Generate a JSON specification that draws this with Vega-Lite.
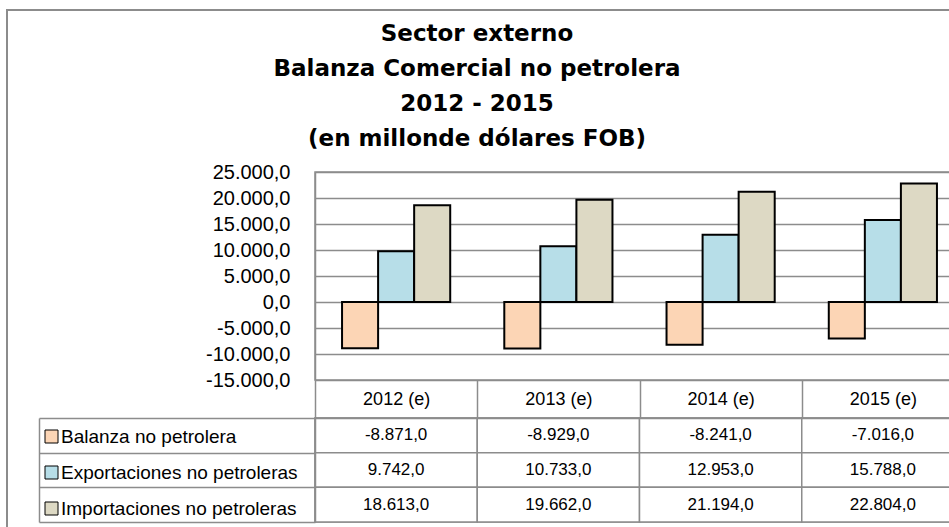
{
  "$schema": "https://vega.github.io/schema/vega-lite/v6.json",
  "padding": {"left": 6, "top": 9, "right": 0, "bottom": 0},
  "background": "white",
  "title": {
    "text": ["Sector externo", "Balanza Comercial no petrolera", "2012 - 2015", "(en millonde dólares FOB)"],
    "anchor": "middle",
    "frame": "bounds",
    "font": "DejaVu Sans",
    "fontSize": 23,
    "fontWeight": "bold",
    "lineHeight": 35,
    "color": "black",
    "offset": 11,
    "dx": -26,
    "dy": 153
  },
  "datasets": {
    "trade": [
      {"year": "2012 (e)", "series": "Balanza no petrolera", "value": -8871},
      {"year": "2013 (e)", "series": "Balanza no petrolera", "value": -8929},
      {"year": "2014 (e)", "series": "Balanza no petrolera", "value": -8241},
      {"year": "2015 (e)", "series": "Balanza no petrolera", "value": -7016},
      {"year": "2012 (e)", "series": "Exportaciones no petroleras", "value": 9742},
      {"year": "2013 (e)", "series": "Exportaciones no petroleras", "value": 10733},
      {"year": "2014 (e)", "series": "Exportaciones no petroleras", "value": 12953},
      {"year": "2015 (e)", "series": "Exportaciones no petroleras", "value": 15788},
      {"year": "2012 (e)", "series": "Importaciones no petroleras", "value": 18613},
      {"year": "2013 (e)", "series": "Importaciones no petroleras", "value": 19662},
      {"year": "2014 (e)", "series": "Importaciones no petroleras", "value": 21194},
      {"year": "2015 (e)", "series": "Importaciones no petroleras", "value": 22804}
    ]
  },
  "data": {"name": "trade"},
  "bounds": "flush",
  "spacing": 38,
  "resolve": {"scale": {"color": "independent"}, "legend": {"color": "independent"}},
  "vconcat": [
    {
      "width": 649,
      "height": 208,
      "mark": {"type": "bar", "stroke": "black", "strokeWidth": 2},
      "encoding": {
        "x": {
          "field": "year", "type": "nominal",
          "scale": {"paddingInner": 0.3333, "paddingOuter": 0.1667},
          "axis": null
        },
        "xOffset": {
          "field": "series", "type": "nominal",
          "sort": ["Balanza no petrolera", "Exportaciones no petroleras", "Importaciones no petroleras"],
          "scale": {"paddingInner": 0, "paddingOuter": 0}
        },
        "y": {
          "field": "value", "type": "quantitative",
          "scale": {"domain": [-15000, 25000], "nice": false, "zero": false},
          "axis": {
            "values": [-15000, -10000, -5000, 0, 5000, 10000, 15000, 20000, 25000],
            "format": ",.1f",
            "title": null,
            "grid": true,
            "gridColor": "#8c8c8c",
            "gridWidth": 1.5,
            "domainColor": "#8c8c8c",
            "domainWidth": 1.5,
            "ticks": false,
            "labelPadding": 25,
            "labelFont": "Liberation Sans",
            "labelFontSize": 20,
            "labelColor": "black"
          }
        },
        "color": {
          "field": "series", "type": "nominal",
          "scale": {
            "domain": ["Balanza no petrolera", "Exportaciones no petroleras", "Importaciones no petroleras"],
            "range": ["#FCD5B5", "#B7DEE8", "#DDD9C4"]
          },
          "legend": null
        }
      }
    },
    {
      "width": 649,
      "height": 104,
      "resolve": {"scale": {"y": "independent"}, "axis": {"y": "independent"}},
      "layer": [
        {
          "mark": {"type": "rect", "fill": "white", "stroke": "#8c8c8c", "strokeWidth": 1.5},
          "encoding": {
            "x": {
              "field": "year", "type": "nominal",
              "scale": {"paddingInner": 0, "paddingOuter": 0},
              "axis": {
                "orient": "top", "title": null,
                "domainColor": "#8c8c8c", "domainWidth": 1.5,
                "tickColor": "#8c8c8c", "tickWidth": 1.5, "tickSize": 38, "tickBand": "extent",
                "labelAngle": 0, "labelBaseline": "middle", "labelPadding": -19,
                "labelFont": "Liberation Sans", "labelFontSize": 18, "labelColor": "black"
              }
            },
            "y": {
              "field": "series", "type": "nominal",
              "sort": ["Balanza no petrolera", "Exportaciones no petroleras", "Importaciones no petroleras"],
              "scale": {"paddingInner": 0, "paddingOuter": 0},
              "axis": {
                "title": null, "labels": false,
                "domainColor": "#8c8c8c", "domainWidth": 1.5,
                "tickColor": "#8c8c8c", "tickWidth": 1.5, "tickSize": 276, "tickBand": "extent"
              }
            }
          }
        },
        {
          "mark": {"type": "text", "font": "Liberation Sans", "fontSize": 17, "color": "black"},
          "encoding": {
            "x": {"field": "year", "type": "nominal"},
            "y": {
              "field": "series", "type": "nominal",
              "sort": ["Balanza no petrolera", "Exportaciones no petroleras", "Importaciones no petroleras"],
              "scale": {"paddingInner": 0, "paddingOuter": 0},
              "axis": null
            },
            "text": {"field": "value", "type": "quantitative", "format": ",.1f"},
            "stroke": {
              "field": "value", "type": "quantitative",
              "scale": {"range": ["rgba(0,0,0,0)", "rgba(0,0,0,0)"]},
              "legend": {
                "orient": "none", "legendX": -308, "legendY": -162,
                "direction": "vertical",
                "title": null, "labels": false,
                "gradientLength": 519, "gradientThickness": 959,
                "gradientStrokeColor": "rgba(0,0,0,0)", "gradientStrokeWidth": 0,
                "gradientOpacity": 0,
                "padding": 0,
                "strokeColor": "#8c8c8c",
                "encode": {"legend": {"update": {"strokeWidth": {"value": 2}}}}
              }
            }
          }
        },
        {
          "mark": {"type": "point", "shape": "square", "filled": true, "opacity": 0},
          "encoding": {
            "x": {"field": "year", "type": "nominal"},
            "y": {
              "field": "series", "type": "nominal",
              "sort": ["Balanza no petrolera", "Exportaciones no petroleras", "Importaciones no petroleras"],
              "scale": {"paddingInner": 0, "paddingOuter": 0},
              "axis": {
                "orient": "left", "offset": 276, "title": null, "labels": false, "ticks": false,
                "domainColor": "#8c8c8c", "domainWidth": 1.5
              }
            },
            "color": {
              "field": "series", "type": "nominal",
              "scale": {
                "domain": ["Balanza no petrolera", "Exportaciones no petroleras", "Importaciones no petroleras"],
                "range": ["#FCD5B5", "#B7DEE8", "#DDD9C4"]
              },
              "legend": {
                "orient": "none", "legendX": -273, "legendY": 9,
                "title": null,
                "symbolType": "square", "symbolSize": 169, "symbolOpacity": 1,
                "symbolStrokeColor": "black", "symbolStrokeWidth": 1,
                "labelFont": "Liberation Sans", "labelFontSize": 19, "labelColor": "black",
                "labelLimit": 400, "labelOffset": 0, "rowPadding": 16, "padding": 0
              }
            }
          }
        }
      ]
    }
  ],
  "config": {
    "locale": {"number": {"decimal": ",", "thousands": ".", "grouping": [3], "currency": ["", ""], "minus": "-"}},
    "view": {"stroke": "#8c8c8c", "strokeWidth": 1.5}
  }
}
